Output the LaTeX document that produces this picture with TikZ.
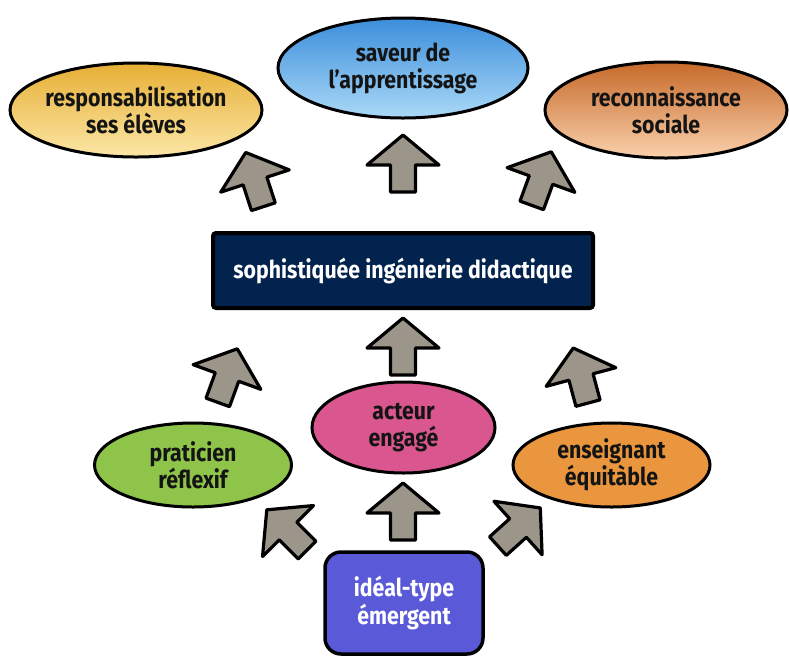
\documentclass[tikz,border=0pt]{standalone}
\usepackage{fontspec}
\setmainfont{Fira Sans}[FakeStretch=0.87]
\usetikzlibrary{shapes.geometric}
\definecolor{txt}{HTML}{141414}
\definecolor{respT}{HTML}{E6AF35}
\definecolor{respB}{HTML}{FCE6A6}
\definecolor{savT}{HTML}{3B8EDB}
\definecolor{savB}{HTML}{AAD9F7}
\definecolor{recT}{HTML}{C66A2A}
\definecolor{recB}{HTML}{FAD0AC}
\definecolor{actC}{HTML}{D9568E}
\definecolor{praC}{HTML}{8DC449}
\definecolor{ensC}{HTML}{E9963E}
\definecolor{navy}{HTML}{03234F}
\definecolor{violet}{HTML}{5A5AD8}
\definecolor{arrowgray}{HTML}{9C968A}
\tikzset{
  oval/.style={ellipse, draw=black, line width=3pt, inner sep=0pt},
  lbl/.style={font=\bfseries\fontsize{24.5}{27}\selectfont, align=center, text=txt, inner sep=0pt},
  wlbl/.style={font=\bfseries\fontsize{24.5}{28}\selectfont, align=center, text=white, inner sep=0pt},
  fatarrow/.pic={\draw[fill=arrowgray, draw=black, line width=3.2pt, line join=round]
     (0,-30) -- (36,0) -- (12.5,0) -- (12.5,27) -- (-12.5,27) -- (-12.5,0) -- (-36,0) -- cycle;}
}
\begin{document}
\begin{tikzpicture}[x=1pt,y=-1pt]
\useasboundingbox (0,0) rectangle (789,657);
% top ellipses
\node[oval, minimum width=252, minimum height=94, top color=respT, bottom color=respB] (resp) at (136,110) {};
\node[lbl] (respt) at (resp.center) {responsabilisation\\ses élèves};
\node[oval, minimum width=250, minimum height=100, top color=savT, bottom color=savB] (sav) at (403,68) {};
\node[lbl] (savt) at (sav.center) {saveur de\\l’apprentissage};
\node[oval, minimum width=242, minimum height=96, top color=recT, bottom color=recB] (rec) at (666,110) {};
\node[lbl] (rect) at (rec.center) {reconnaissance\\sociale};
% central box
\node[draw=black, line width=4pt, fill=navy, rounded corners=3pt, minimum width=380, minimum height=75, wlbl] (ing) at (403,270.5) {sophistiquée ingénierie didactique};
% middle ellipses
\node[oval, minimum width=183, minimum height=91, fill=actC] (act) at (403.5,427.5) {};
\node[lbl] (actt) at (act.center) {acteur\\engagé};
\node[oval, minimum width=197, minimum height=84, fill=praC] (pra) at (193,465) {};
\node[lbl] (prat) at (pra.center) {praticien\\réflexif};
\node[oval, minimum width=197, minimum height=84, fill=ensC] (ens) at (611.5,465) {};
\node[lbl] (enst) at (ens.center) {enseignant\\équitàble};
% bottom box
\node[draw=black, line width=3.5pt, fill=violet, rounded corners=16pt, minimum width=158, minimum height=102, wlbl] (ideal) at (404,603) {idéal-type\\émergent};
% arrows
\pic (a1) at (403,165) {fatarrow};
\pic[rotate=18] (a2) at (255,181) {fatarrow};
\pic[rotate=-20] (a3) at (541,180) {fatarrow};
\pic (a4) at (403,348) {fatarrow};
\pic[rotate=-20] (a5) at (227,377) {fatarrow};
\pic[rotate=15] (a6) at (581,377) {fatarrow};
\pic (a7) at (403,513) {fatarrow};
\pic[rotate=45] (a8) at (288,531) {fatarrow};
\pic[rotate=-48] (a9) at (518,528) {fatarrow};
\end{tikzpicture}
\end{document}
